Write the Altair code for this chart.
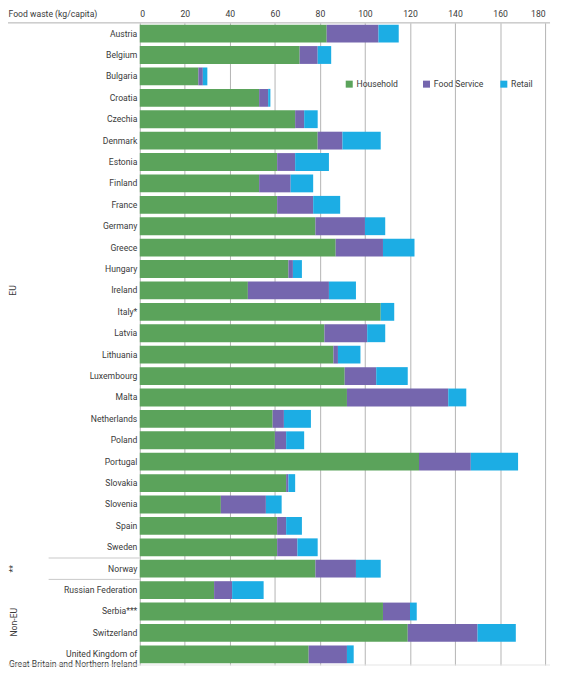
import altair as alt
import pandas as pd

countries = ["Austria", "Belgium", "Bulgaria", "Croatia", "Czechia", "Denmark", "Estonia",
             "Finland", "France", "Germany", "Greece", "Hungary", "Ireland", "Italy*",
             "Latvia", "Lithuania", "Luxembourg", "Malta", "Netherlands", "Poland",
             "Portugal", "Slovakia", "Slovenia", "Spain", "Sweden", "Norway",
             "Russian Federation", "Serbia***", "Switzerland",
             "United Kingdom of Great Britain and Northern Ireland"]
household = [83, 71, 26, 53, 69, 79, 61, 53, 61, 78, 87, 66, 48, 107, 82, 86, 91, 92, 59, 60,
             124, 65, 36, 61, 61, 78, 33, 108, 119, 75]
food_service = [23, 8, 2, 4, 4, 11, 8, 14, 16, 22, 21, 2, 36, 0, 19, 2, 14, 45, 5, 5,
                23, 1, 20, 4, 9, 18, 8, 12, 31, 17]
retail = [9, 6, 2, 1, 6, 17, 15, 10, 12, 9, 14, 4, 12, 6, 8, 10, 14, 8, 12, 8,
          21, 3, 7, 7, 9, 11, 14, 3, 17, 3]
sectors = ["Household", "Food Service", "Retail"]
colors = ["#5BA35B", "#7566AE", "#1CADE4"]
x_ticks = [0, 20, 40, 60, 80, 100, 120, 140, 160, 180]

rows = []
for i, c in enumerate(countries):
    for k, (s, v) in enumerate(zip(sectors, [household[i], food_service[i], retail[i]])):
        rows.append({"country": c, "sector": s, "value": v, "order": k})
df = pd.DataFrame(rows)

FONT = "Roboto"
FS = 8.7
TXT = "#3a3a3a"
ysc = alt.Scale(domain=countries, paddingInner=0, paddingOuter=0)

bars = alt.Chart(df).mark_bar(size=18).encode(
    x=alt.X("value:Q", stack="zero",
            scale=alt.Scale(domain=[0, 180], nice=False),
            axis=alt.Axis(orient="top", values=x_ticks, ticks=False, domain=False,
                          grid=True, gridColor="#b3b3b3", gridWidth=1,
                          labelFont=FONT, labelFontSize=FS, labelColor=TXT,
                          labelPadding=4,
                          title="Food waste (kg/capita)", titleFont=FONT,
                          titleFontSize=FS, titleFontWeight="normal",
                          titleColor=TXT, titleX=-133, titleY=-4,
                          titleAlign="left", titleBaseline="bottom", titleAngle=0)),
    y=alt.Y("country:N", sort=countries, scale=ysc,
            axis=alt.Axis(title=None, ticks=False, domain=False,
                          labelFont=FONT, labelFontSize=FS, labelColor=TXT,
                          labelPadding=3, labelLimit=200, labelLineHeight=10,
                          labelExpr="datum.label == 'United Kingdom of Great Britain and Northern Ireland' ? ['United Kingdom of', 'Great Britain and Northern Ireland'] : datum.label")),
    color=alt.Color("sector:N", sort=sectors,
                    scale=alt.Scale(domain=sectors, range=colors),
                    legend=alt.Legend(title=None, orient="none", direction="horizontal",
                                      legendX=207, legendY=57, symbolType="square",
                                      symbolSize=50, symbolStrokeWidth=0,
                                      labelFont=FONT, labelFontSize=FS,
                                      labelColor=TXT, columnPadding=16,
                                      gridAlign="all", labelOffset=3)),
    order=alt.Order("order:Q"),
)

eu_df = pd.DataFrame({"country": ["Ireland", "Norway"], "label": ["EU", "**"]})
mid_labels = alt.Chart(eu_df).mark_text(angle=270, align="center", baseline="middle",
                                        font=FONT, fontSize=FS, color=TXT).encode(
    x=alt.value(-128),
    y=alt.Y("country:N", sort=countries, scale=ysc, bandPosition=0.5),
    text="label:N",
)

non_df = pd.DataFrame({"country": ["Switzerland"], "label": ["Non-EU"]})
non_label = alt.Chart(non_df).mark_text(angle=270, align="center", baseline="middle",
                                        font=FONT, fontSize=FS, color=TXT).encode(
    x=alt.value(-127),
    y=alt.Y("country:N", sort=countries, scale=ysc, bandPosition=0),
    text="label:N",
)

sep_df = pd.DataFrame({"country": ["Norway", "Russian Federation"]})
seps = alt.Chart(sep_df).mark_rule(color="#c8c8c8", strokeWidth=1).encode(
    x=alt.value(-92), x2=alt.value(0),
    y=alt.Y("country:N", sort=countries, scale=ysc, bandPosition=0),
)

top_line = alt.Chart(pd.DataFrame({"a": [0]})).mark_rule(color="#b0b0b0", strokeWidth=1).encode(
    x=alt.value(-133), x2=alt.value(414), y=alt.value(0))
bottom_line = alt.Chart(pd.DataFrame({"a": [0]})).mark_rule(color="#e6e6e6", strokeWidth=1).encode(
    x=alt.value(-133), x2=alt.value(414), y=alt.value(648))

chart = alt.layer(top_line, bottom_line, bars, seps, mid_labels, non_label).properties(
    width=409, height=648,
    autosize=alt.AutoSizeParams(type="none"),
    padding={"left": 133, "top": 12, "right": 10, "bottom": 2},
).configure_view(stroke=None)

chart.save("out.html", embed_options={"renderer": "svg", "actions": False})
